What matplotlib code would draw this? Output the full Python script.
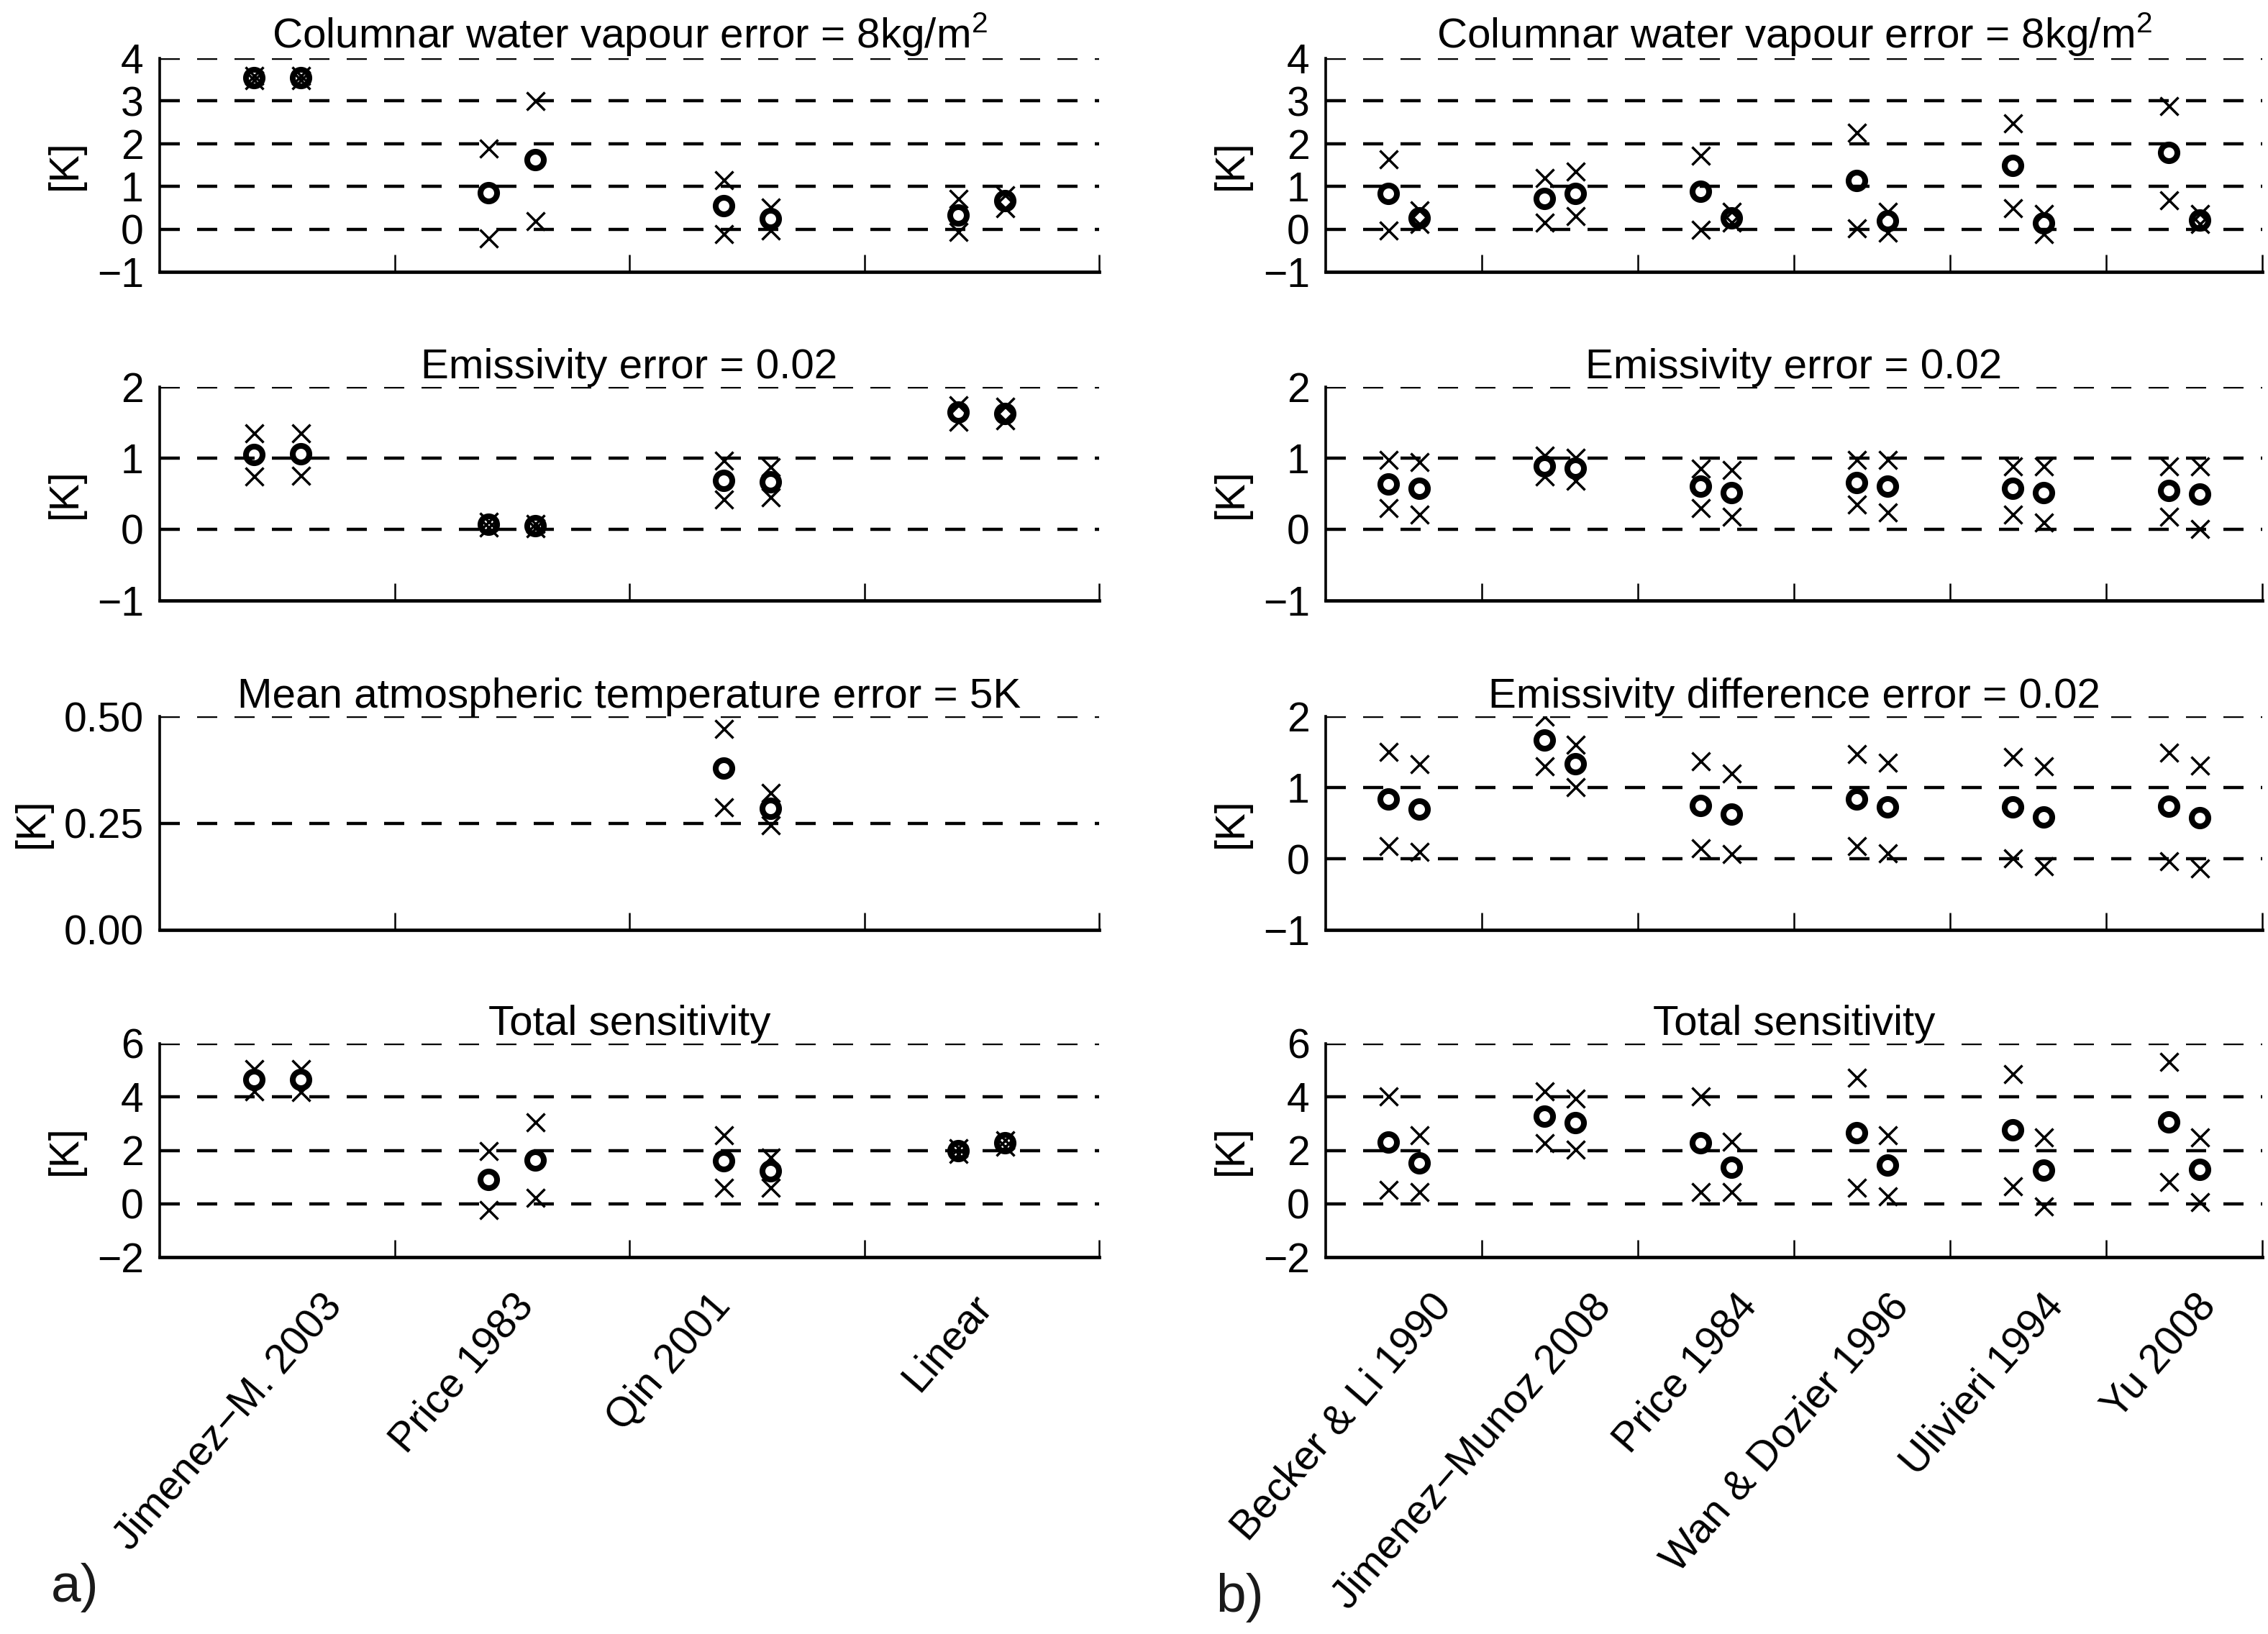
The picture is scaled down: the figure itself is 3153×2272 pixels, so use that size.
import numpy as np
import matplotlib
matplotlib.use('Agg')
import matplotlib.pyplot as plt
from matplotlib.transforms import offset_copy

plt.rcParams['font.family'] = ['Liberation Sans', 'DejaVu Sans']
plt.rcParams['mathtext.fontset'] = 'custom'
plt.rcParams['mathtext.rm'] = 'Liberation Sans'
plt.rcParams['mathtext.default'] = 'regular'

nan = np.nan

## panel a) methods
methods_a = ['Jimenez\u2212M. 2003', 'Price 1983', 'Qin 2001', 'Linear']
## panel b) methods
methods_b = ['Becker & Li 1990', 'Jimenez\u2212Munoz 2008', 'Price 1984',
             'Wan & Dozier 1996', 'Ulivieri 1994', 'Yu 2008']

titles_a = ['Columnar water vapour error = 8kg/m$^2$', 'Emissivity error = 0.02',
            'Mean atmospheric temperature error = 5K', 'Total sensitivity']
titles_b = ['Columnar water vapour error = 8kg/m$^2$', 'Emissivity error = 0.02',
            'Emissivity difference error = 0.02', 'Total sensitivity']

# [series 1, series 2]; mid = circle, hi/lo = crosses
a_wv_mid = [[3.55, 0.85, 0.55, 0.33], [3.55, 1.62, 0.24, 0.66]]
a_wv_hi = [[3.60, 1.90, 1.15, 0.72], [3.60, 3.00, 0.52, 0.80]]
a_wv_lo = [[3.50, -0.21, -0.10, -0.05], [3.50, 0.19, -0.02, 0.50]]

a_em_mid = [[1.05, 0.07, 0.69, 1.65], [1.06, 0.05, 0.67, 1.63]]
a_em_hi = [[1.35, 0.11, 0.97, 1.75], [1.35, 0.08, 0.88, 1.73]]
a_em_lo = [[0.75, 0.03, 0.42, 1.52], [0.76, 0.02, 0.45, 1.54]]

a_ta_mid = [[nan, nan, 0.378, nan], [nan, nan, 0.285, nan]]
a_ta_hi = [[nan, nan, 0.472, nan], [nan, nan, 0.321, nan]]
a_ta_lo = [[nan, nan, 0.288, nan], [nan, nan, 0.245, nan]]

a_tot_mid = [[4.64, 0.91, 1.60, 2.00], [4.64, 1.64, 1.22, 2.28]]
a_tot_hi = [[5.05, 2.00, 2.58, 2.10], [5.05, 3.07, 1.75, 2.38]]
a_tot_lo = [[4.22, -0.23, 0.61, 1.88], [4.20, 0.23, 0.62, 2.16]]

b_wv_mid = [[0.83, 0.72, 0.88, 1.13, 1.49, 1.80], [0.26, 0.83, 0.26, 0.19, 0.15, 0.22]]
b_wv_hi = [[1.64, 1.21, 1.73, 2.27, 2.49, 2.89], [0.45, 1.35, 0.41, 0.41, 0.36, 0.36]]
b_wv_lo = [[-0.02, 0.17, 0.00, 0.03, 0.50, 0.69], [0.12, 0.31, 0.17, -0.07, -0.11, 0.12]]

b_em_mid = [[0.64, 0.89, 0.61, 0.66, 0.58, 0.55], [0.58, 0.86, 0.52, 0.61, 0.52, 0.49]]
b_em_hi = [[0.98, 1.04, 0.86, 0.98, 0.89, 0.89], [0.95, 1.01, 0.84, 0.98, 0.89, 0.89]]
b_em_lo = [[0.30, 0.75, 0.30, 0.35, 0.21, 0.18], [0.21, 0.69, 0.18, 0.24, 0.10, 0.01]]

b_ed_mid = [[0.84, 1.67, 0.75, 0.84, 0.73, 0.74], [0.70, 1.33, 0.63, 0.73, 0.59, 0.58]]
b_ed_hi = [[1.51, 2.00, 1.37, 1.47, 1.43, 1.50], [1.33, 1.61, 1.20, 1.35, 1.30, 1.31]]
b_ed_lo = [[0.18, 1.30, 0.15, 0.18, 0.01, -0.03], [0.10, 1.01, 0.07, 0.08, -0.10, -0.13]]

b_tot_mid = [[2.31, 3.27, 2.28, 2.66, 2.77, 3.07], [1.52, 3.04, 1.37, 1.44, 1.25, 1.29]]
b_tot_hi = [[4.03, 4.21, 4.03, 4.74, 4.86, 5.32], [2.58, 3.95, 2.35, 2.58, 2.51, 2.51]]
b_tot_lo = [[0.53, 2.28, 0.46, 0.61, 0.68, 0.84], [0.46, 2.05, 0.46, 0.30, -0.08, 0.08]]

ylims = [(-1, 4), (-1, 2), (0, 0.5), (-2, 6)]
yticks_a = [[-1, 0, 1, 2, 3, 4], [-1, 0, 1, 2], [0, 0.25, 0.5], [-2, 0, 2, 4, 6]]
ylims_b = [(-1, 4), (-1, 2), (-1, 2), (-2, 6)]
yticks_b = [[-1, 0, 1, 2, 3, 4], [-1, 0, 1, 2], [-1, 0, 1, 2], [-2, 0, 2, 4, 6]]

rows_a = [(a_wv_mid, a_wv_hi, a_wv_lo), (a_em_mid, a_em_hi, a_em_lo),
          (a_ta_mid, a_ta_hi, a_ta_lo), (a_tot_mid, a_tot_hi, a_tot_lo)]
rows_b = [(b_wv_mid, b_wv_hi, b_wv_lo), (b_em_mid, b_em_hi, b_em_lo),
          (b_ed_mid, b_ed_hi, b_ed_lo), (b_tot_mid, b_tot_hi, b_tot_lo)]

# rotated label nudges (points), layout only
shift_a = [21.4, 0.0, -18.7, -5.8]
shift_b = [13.1, 14.8, 9.7, 7.7, 7.0, 5.2]

W, H = 3153, 2272
DPI = 200
fig = plt.figure(figsize=(W / DPI, H / DPI), dpi=DPI)

row_top = [81, 538, 996, 1451]
row_h = 297
FS = 20.5
FS_T = 21


def draw_panel(x0, x1, methods, rows, titles, lims, ticks, shifts, fmt2):
    n = len(methods)
    for r in range(4):
        ax = fig.add_axes([x0 / W, 1 - (row_top[r] + row_h) / H, (x1 - x0) / W, row_h / H])
        mid, hi, lo = rows[r]
        xc = np.arange(1, n + 1)
        for s, off in enumerate([-0.1, 0.1]):
            ax.plot(xc + off, mid[s], 'o', mfc='none', mec='k', ms=8.3, mew=2.9, zorder=3)
            ax.plot(xc + off, hi[s], 'x', color='k', ms=9, mew=1.25, zorder=4)
            ax.plot(xc + off, lo[s], 'x', color='k', ms=9, mew=1.25, zorder=4)
        ax.set_xlim(0.5, n + 0.5)
        ax.set_ylim(*lims[r])
        ax.set_yticks(ticks[r])
        if fmt2 and r == 2:
            ax.set_yticklabels(['%.2f' % t for t in ticks[r]])
        else:
            ax.set_yticklabels([('%d' % t).replace('-', '\u2212') for t in ticks[r]])
        ax.set_xticks(np.arange(1.5, n + 1.0, 1.0))
        ax.set_xticklabels([])
        ax.tick_params(axis='x', direction='in', length=8.5, width=0.9, colors='k')
        ax.tick_params(axis='y', length=0, pad=8, labelsize=FS)
        for sp in ['top', 'right']:
            ax.spines[sp].set_visible(False)
        ax.spines['left'].set_linewidth(1.3)
        ax.spines['bottom'].set_linewidth(1.7)
        for t in ticks[r][1:]:
            ax.axhline(t, color='k', lw=1.6, ls=(0, (6.3, 5.4)), zorder=1)
        ax.set_ylabel('[K]', fontsize=FS, labelpad=6)
        ax.set_title(titles[r], fontsize=FS_T, pad=4)
        if r == 3:
            for i, m in enumerate(methods):
                tr = offset_copy(ax.get_xaxis_transform(), fig=fig, x=shifts[i], y=-15, units='points')
                ax.text(i + 1, 0, m, transform=tr, rotation=49, rotation_mode='anchor',
                        ha='right', va='top', fontsize=FS)


draw_panel(222, 1528, methods_a, rows_a, titles_a, ylims, yticks_a, shift_a, True)
draw_panel(1843, 3145, methods_b, rows_b, titles_b, ylims_b, yticks_b, shift_b, False)

fig.text(71 / W, 1 - 2227 / H, 'a)', fontsize=27, ha='left', va='baseline', color='#1a1a1a')
fig.text(1690 / W, 1 - 2241 / H, 'b)', fontsize=27, ha='left', va='baseline', color='#1a1a1a')

fig.savefig('out.png', dpi=DPI)
